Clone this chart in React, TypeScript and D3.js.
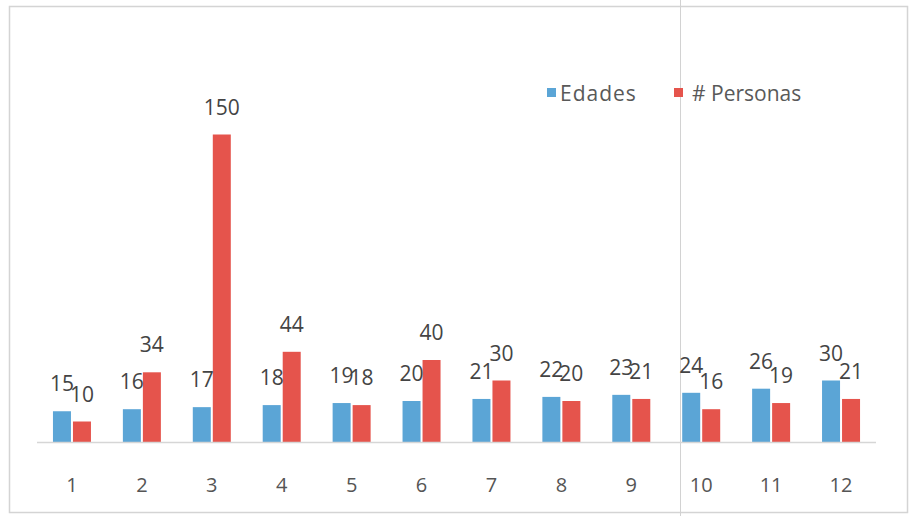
import React from "react";
import * as d3 from "d3";

const categories = ["1", "2", "3", "4", "5", "6", "7", "8", "9", "10", "11", "12"];
const edades = [15, 16, 17, 18, 19, 20, 21, 22, 23, 24, 26, 30];
const personas = [10, 34, 150, 44, 18, 40, 30, 20, 21, 16, 19, 21];
const seriesNames = ["Edades", "# Personas"];
const seriesColors = ["#5ba5d6", "#e5544c"];

const W = 911;
const H = 516;
const FONT = "'Open Sans', 'Liberation Sans', sans-serif";

export default function App() {
  const x = d3.scaleBand<string>().domain(categories).range([37, 876]).paddingInner(0).paddingOuter(0);
  const y = d3.scaleLinear().domain([0, 160]).range([442, 114]);
  const bw = x.bandwidth();
  const sub = d3
    .scaleBand<string>()
    .domain(seriesNames)
    .range([bw / 2 - 19, bw / 2 + 19])
    .paddingInner(0.1);

  const series = [edades, personas];

  return (
    <svg
      width={W}
      height={H}
      style={{ position: "absolute", left: 0, top: 0, background: "#fff" }}
      fontFamily={FONT}
    >
      {/* chart frame */}
      <rect x={9.5} y={6.5} width={898} height={506} fill="none" stroke="#d4d4d4" strokeWidth={1.5} />
      <line x1={680.5} x2={680.5} y1={0} y2={H} stroke="#d2d2d2" strokeWidth={1} />

      {/* bars */}
      {series.map((vals, si) => (
        <g key={seriesNames[si]}>
          {vals.map((v, i) => {
            const bx = (x(categories[i]) ?? 0) + (sub(seriesNames[si]) ?? 0);
            return (
              <rect
                key={i}
                x={bx}
                y={y(v)}
                width={sub.bandwidth()}
                height={y(0) - y(v)}
                fill={seriesColors[si]}
              />
            );
          })}
        </g>
      ))}

      {/* category axis */}
      <line x1={37} x2={876} y1={442.5} y2={442.5} stroke="#d6d6d6" strokeWidth={1.5} />
      {categories.map((c) => (
        <text
          key={c}
          x={(x(c) ?? 0) + bw / 2}
          y={492}
          textAnchor="middle"
          fontSize={20}
          fill="#555"
        >
          {c}
        </text>
      ))}

      {/* value labels */}
      {series.map((vals, si) => (
        <g key={"lbl" + si}>
          {vals.map((v, i) => {
            const cx = (x(categories[i]) ?? 0) + (sub(seriesNames[si]) ?? 0) + sub.bandwidth() / 2;
            return (
              <text key={i} x={cx} y={y(v) - 20} textAnchor="middle" fontSize={21} fill="#444">
                {v}
              </text>
            );
          })}
        </g>
      ))}

      {/* legend */}
      <rect x={547} y={88} width={9} height={9} fill={seriesColors[0]} />
      <text x={560} y={101} fontSize={21} letterSpacing={1} fill="#595959">
        {seriesNames[0]}
      </text>
      <rect x={674} y={88} width={9} height={9} fill={seriesColors[1]} />
      <text x={692} y={101} fontSize={21} fill="#595959">
        {seriesNames[1]}
      </text>
    </svg>
  );
}
